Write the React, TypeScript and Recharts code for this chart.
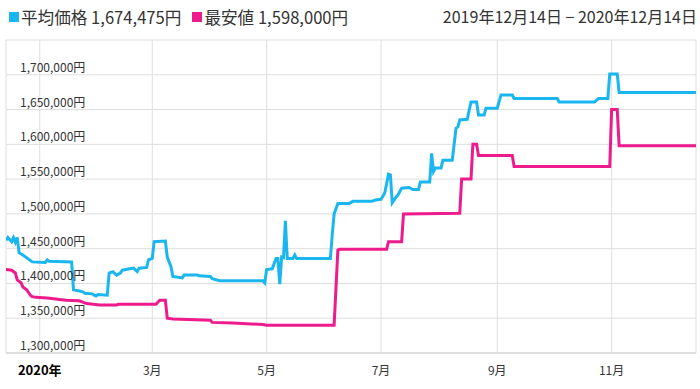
import React from "react";
import { LineChart, Line, XAxis, YAxis, CartesianGrid } from "recharts";

// 価格推移チャート（平均価格 / 最安値）
// x = 2019年12月14日からの日数

const DAY_MAX = 368;

const MONTH_TICKS = [18, 78, 139, 200, 262, 323];
const MONTH_LABELS = ["2020年", "3月", "5月", "7月", "9月", "11月"];

const PRICE_TICKS = [
  1300000, 1350000, 1400000, 1450000, 1500000, 1550000, 1600000, 1650000, 1700000, 1750000,
];

// 平均価格 [日, 円]
const AVG_PRICE: [number, number][] = [
  [0, 1462000], [1, 1466000], [3, 1460000], [4, 1466000], [5, 1459000], [6, 1466000],
  [7, 1444000], [9, 1441000], [14, 1431000], [21, 1430000], [22, 1434000], [23, 1432000],
  [35, 1431000], [36, 1391000], [41, 1388000], [42, 1386000], [46, 1385000], [47, 1383000],
  [48, 1382000], [49, 1384000], [54, 1383000], [55, 1415000], [57, 1417000], [59, 1412000],
  [61, 1415000], [62, 1419000], [68, 1422000], [70, 1417000], [71, 1422000], [75, 1423000],
  [76, 1434000], [78, 1436000], [79, 1460000], [85, 1461000], [86, 1438000], [87, 1431000],
  [88, 1424000], [89, 1410000], [94, 1408000], [95, 1412000], [102, 1412000], [103, 1411000],
  [109, 1410000], [110, 1407000], [114, 1404000], [137, 1404000], [138, 1401000], [139, 1420000],
  [142, 1421000], [144, 1436000], [145, 1436000], [146, 1399000], [147, 1438000], [148, 1437000],
  [149, 1490000], [150, 1436000], [153, 1436000], [154, 1441000], [155, 1436000], [173, 1436000],
  [174, 1470000], [175, 1500000], [177, 1515000], [183, 1515000], [185, 1518000], [195, 1518000],
  [197, 1520000], [200, 1521000], [202, 1530000], [204, 1557000], [205, 1556000], [206, 1516000],
  [208, 1524000], [209, 1527000], [211, 1537000], [215, 1538000], [217, 1535000], [220, 1535000],
  [221, 1546000], [226, 1546000], [227, 1587000], [228, 1561000], [229, 1566000], [232, 1566000],
  [233, 1577000], [238, 1577000], [240, 1623000], [241, 1625000], [242, 1635000], [246, 1636000],
  [248, 1661000], [251, 1661000], [252, 1642000], [255, 1642000], [256, 1652000], [262, 1652000],
  [264, 1671000], [270, 1671000], [271, 1666000], [294, 1666000], [295, 1661000], [314, 1661000],
  [316, 1666000], [321, 1666000], [322, 1701000], [326, 1701000], [327, 1674475], [368, 1674475],
];

// 最安値 [日, 円]
const MIN_PRICE: [number, number][] = [
  [0, 1420000], [3, 1419000], [5, 1415000], [6, 1405000], [8, 1401000], [9, 1395000],
  [11, 1391000], [13, 1383000], [14, 1381000], [16, 1380000], [22, 1379000], [32, 1376000],
  [39, 1375000], [43, 1371000], [50, 1369000], [59, 1369000], [60, 1370000], [80, 1370000],
  [82, 1376000], [85, 1376000], [86, 1350000], [89, 1349000], [109, 1347000], [110, 1344000],
  [121, 1343000], [137, 1341000], [139, 1340000], [175, 1340000], [177, 1448000], [178, 1449000],
  [203, 1449000], [204, 1460000], [211, 1460000], [212, 1500000], [242, 1501000], [243, 1550000],
  [248, 1550000], [249, 1600000], [251, 1600000], [252, 1584000], [270, 1584000], [271, 1568000],
  [322, 1568000], [323, 1650000], [326, 1650000], [327, 1598000], [368, 1598000],
];

const COLORS = {
  avg: "#1ab6ef",
  min: "#ee1b8c",
  grid: "#dedede",
  text: "#333333",
};

const FONT = '"Noto Sans CJK JP", "Noto Sans", sans-serif';

const avgData = AVG_PRICE.map(([day, price]) => ({ day, price }));
const minData = MIN_PRICE.map(([day, price]) => ({ day, price }));

const yen = (v: number) => v.toLocaleString("en-US") + "円";

const PriceTick = (props: any) => {
  const { y, payload } = props;
  if (payload.value >= 1750000) return <g />;
  return (
    <text x={20} y={y - 3} fontSize={12} fill={COLORS.text} fontFamily={FONT}>
      {yen(payload.value)}
    </text>
  );
};

const MonthTick = (props: any) => {
  const { x, y, payload } = props;
  const i = MONTH_TICKS.indexOf(payload.value);
  const isYear = i === 0;
  return (
    <text
      x={x}
      y={y + 22}
      textAnchor="middle"
      fontSize={isYear ? 13 : 12}
      fontWeight={isYear ? "bold" : "normal"}
      fill={isYear ? "#000" : COLORS.text}
      fontFamily={FONT}
    >
      {MONTH_LABELS[i]}
    </text>
  );
};

export default function App() {
  return (
    <div style={{ position: "absolute", left: 0, top: 0, width: 700, height: 389, background: "#fff", fontFamily: FONT, color: COLORS.text }}>
      {/* 凡例 */}
      <div style={{ position: "absolute", left: 9, top: 7, height: 20, display: "flex", alignItems: "center", fontSize: 16.6, whiteSpace: "nowrap" }}>
        <span style={{ display: "inline-block", width: 10, height: 10, background: COLORS.avg, marginRight: 2 }}></span>
        <span>平均価格 1,674,475円</span>
        <span style={{ display: "inline-block", width: 10, height: 10, background: COLORS.min, marginLeft: 11, marginRight: 2 }}></span>
        <span>最安値 1,598,000円</span>
      </div>
      <div style={{ position: "absolute", right: 3, top: 6, height: 20, lineHeight: "20px", fontSize: 16, whiteSpace: "nowrap" }}>
        2019年12月14日 − 2020年12月14日
      </div>

      <div style={{ position: "absolute", left: 0, top: 0 }}>
        <LineChart width={700} height={389} margin={{ top: 40, right: 4, bottom: 0, left: 5 }}>
          <CartesianGrid stroke={COLORS.grid} strokeWidth={1} />
          <XAxis
            type="number"
            dataKey="day"
            domain={[0, DAY_MAX]}
            ticks={MONTH_TICKS}
            allowDataOverflow
            height={36}
            tickLine={false}
            tickSize={0}
            tickMargin={0}
            axisLine={{ stroke: COLORS.grid, strokeWidth: 2 }}
            tick={<MonthTick />}
          />
          <Line data={avgData} dataKey="price" type="linear" stroke={COLORS.avg} strokeWidth={3} dot={false} isAnimationActive={false} />
          <Line data={minData} dataKey="price" type="linear" stroke={COLORS.min} strokeWidth={3} dot={false} isAnimationActive={false} />
          <YAxis
            type="number"
            domain={[1300000, 1750000]}
            ticks={PRICE_TICKS}
            interval={0}
            allowDataOverflow
            width={1}
            axisLine={false}
            tickLine={false}
            tick={<PriceTick />}
          />
        </LineChart>
      </div>
    </div>
  );
}
